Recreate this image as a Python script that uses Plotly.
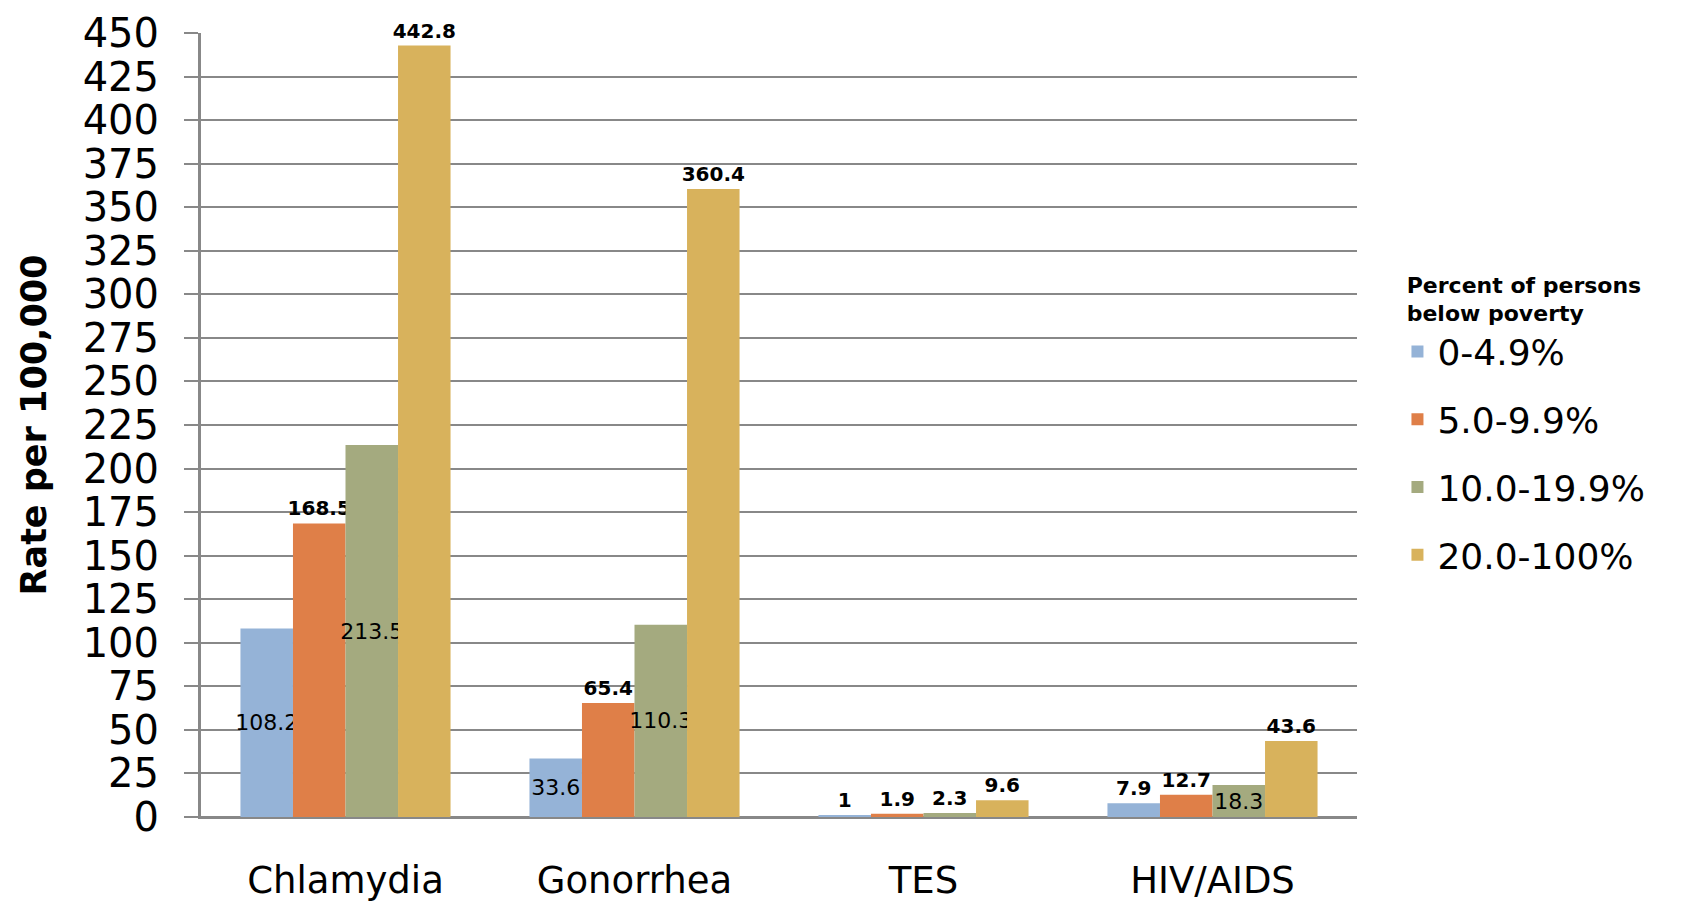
import plotly.graph_objects as go

categories = ["Chlamydia", "Gonorrhea", "TES", "HIV/AIDS"]
series_names = ["0-4.9%", "5.0-9.9%", "10.0-19.9%", "20.0-100%"]
vals_0_4 = [108.2, 33.6, 1, 7.9]
vals_5_9 = [168.5, 65.4, 1.9, 12.7]
vals_10_19 = [213.5, 110.3, 2.3, 18.3]
vals_20_100 = [442.8, 360.4, 9.6, 43.6]
label_pos_0_4 = ["inside", "inside", "outside", "outside"]
label_pos_5_9 = ["outside", "outside", "outside", "outside"]
label_pos_10_19 = ["inside", "inside", "outside", "inside"]
label_pos_20_100 = ["outside", "outside", "outside", "outside"]
colors = ["#95B3D7", "#DF7F48", "#A4AA7F", "#D8B25C"]
y_ticks = list(range(0, 451, 25))

FONT = "DejaVu Sans"

fig = go.Figure()
for name, vals, pos, col in zip(
    series_names,
    [vals_0_4, vals_5_9, vals_10_19, vals_20_100],
    [label_pos_0_4, label_pos_5_9, label_pos_10_19, label_pos_20_100],
    colors,
):
    fig.add_trace(go.Bar(
        name=name, x=categories, y=vals,
        marker=dict(color=col, line=dict(width=0)),
        text=[f"{v:g}" for v in vals],
        textposition=pos,
        textangle=0,
        insidetextanchor="middle",
        constraintext="none",
        cliponaxis=False,
        insidetextfont=dict(family=FONT, size=22, color="black"),
        outsidetextfont=dict(family=FONT, size=20, color="black", weight="bold"),
        legendgroup=name,
    ))

fig.update_layout(
    template="none",
    width=1690, height=905,
    paper_bgcolor="white", plot_bgcolor="white",
    margin=dict(l=201, r=333, t=33, b=88, autoexpand=False),
    barmode="group", bargap=0.273, bargroupgap=0,
    font=dict(family=FONT, color="black"),
    legend=dict(
        x=1.035, xanchor="left", y=0.705, yanchor="top",
        font=dict(family=FONT, size=36, color="black"),
        title=dict(text="Percent of persons<br>below poverty", side="top center",
                   font=dict(family=FONT, size=22, color="black", weight="bold")),
        traceorder="grouped", tracegroupgap=18,
        itemwidth=30,
        bgcolor="rgba(0,0,0,0)",
    ),
    showlegend=True,
)
fig.update_yaxes(
    automargin=False,
    range=[0, 450], tickvals=y_ticks, ticktext=[str(t) for t in y_ticks],
    showgrid=True, gridcolor="#888888", gridwidth=2,
    showline=True, linecolor="#888888", linewidth=3,
    ticks="outside", ticklen=14, tickcolor="#888888", tickwidth=2,
    tickfont=dict(family=FONT, size=40, color="black"),
    ticklabelstandoff=17,
    zeroline=True, zerolinecolor="#888888", zerolinewidth=2,
    title=dict(text="Rate per 100,000", standoff=26,
               font=dict(family=FONT, size=35, color="black", weight="bold")),
)
fig.update_xaxes(
    automargin=False,
    showgrid=False,
    showline=True, linecolor="#888888", linewidth=2,
    tickfont=dict(family=FONT, size=37, color="black"),
    ticks="", ticklabelstandoff=30,
)

fig.write_html(
    "out.html",
    config={"displayModeBar": False},
    post_script="document.body.style.margin='0';document.body.style.overflow='hidden';",
)
